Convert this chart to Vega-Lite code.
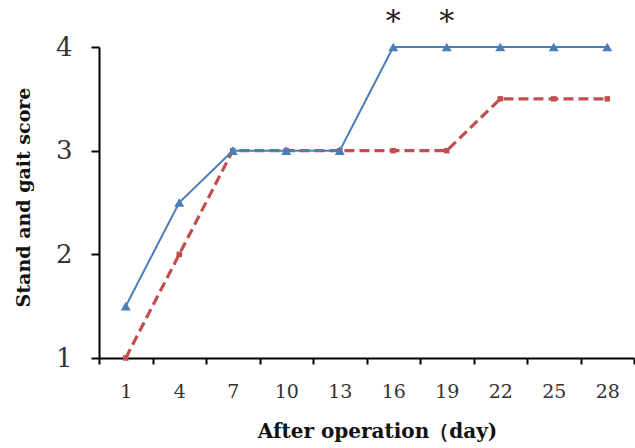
{
  "$schema": "https://vega.github.io/schema/vega-lite/v6.json",
  "width": 535,
  "height": 311,
  "autosize": {"type": "none"},
  "padding": {"left": 99, "top": 47, "right": 1, "bottom": 90},
  "background": "white",
  "config": {
    "view": {"stroke": null},
    "axis": {"grid": false, "domainColor": "black", "tickColor": "black", "labelColor": "#333", "titleColor": "#111"}
  },
  "datasets": {
    "scores": [
      {"day": "1", "series": "A", "score": 1.5},
      {"day": "4", "series": "A", "score": 2.5},
      {"day": "7", "series": "A", "score": 3},
      {"day": "10", "series": "A", "score": 3},
      {"day": "13", "series": "A", "score": 3},
      {"day": "16", "series": "A", "score": 4},
      {"day": "19", "series": "A", "score": 4},
      {"day": "22", "series": "A", "score": 4},
      {"day": "25", "series": "A", "score": 4},
      {"day": "28", "series": "A", "score": 4},
      {"day": "1", "series": "B", "score": 1},
      {"day": "4", "series": "B", "score": 2},
      {"day": "7", "series": "B", "score": 3},
      {"day": "10", "series": "B", "score": 3},
      {"day": "13", "series": "B", "score": 3},
      {"day": "16", "series": "B", "score": 3},
      {"day": "19", "series": "B", "score": 3},
      {"day": "22", "series": "B", "score": 3.5},
      {"day": "25", "series": "B", "score": 3.5},
      {"day": "28", "series": "B", "score": 3.5}
    ],
    "stars": [
      {"day": "16", "score": 4, "label": "*"},
      {"day": "19", "score": 4, "label": "*"}
    ]
  },
  "layer": [
    {
      "data": {"name": "scores"},
      "transform": [{"filter": "datum.series === 'B'"}],
      "mark": {"type": "line", "color": "#C0504D", "strokeWidth": 3.2, "strokeDash": [10, 5]},
      "encoding": {
        "x": {
          "field": "day", "type": "ordinal", "sort": null,
          "scale": {"type": "band", "paddingInner": 0, "paddingOuter": 0, "domain": ["1","4","7","10","13","16","19","22","25","28"]},
          "axis": {
            "title": "After operation（day)", "labelAngle": 0, "tickBand": "extent",
            "tickSize": 6, "tickWidth": 2, "domainWidth": 2,
            "labelFont": "DejaVu Serif", "labelFontSize": 19, "labelPadding": 18,
            "titleFont": "DejaVu Serif", "titleFontWeight": "bold", "titleFontSize": 20, "titlePadding": 20, "titleX": 278
          }
        },
        "y": {
          "field": "score", "type": "quantitative",
          "scale": {"domain": [1, 4], "nice": false, "zero": false},
          "axis": {
            "title": "Stand and gait score", "values": [1, 2, 3, 4], "format": "d",
            "tickSize": 8, "tickWidth": 2, "domainWidth": 2,
            "labelFont": "DejaVu Serif", "labelFontSize": 26, "labelPadding": 19,
            "titleFont": "DejaVu Serif", "titleFontWeight": "bold", "titleFontSize": 19, "titlePadding": 22, "titleY": 150
          }
        }
      }
    },
    {
      "data": {"name": "scores"},
      "transform": [{"filter": "datum.series === 'B'"}],
      "mark": {"type": "point", "shape": "square", "filled": true, "color": "#C0504D", "size": 30, "opacity": 1},
      "encoding": {
        "x": {"field": "day", "type": "ordinal", "sort": null},
        "y": {"field": "score", "type": "quantitative"}
      }
    },
    {
      "data": {"name": "scores"},
      "transform": [{"filter": "datum.series === 'A'"}],
      "mark": {"type": "line", "color": "#4A7EBB", "strokeWidth": 2},
      "encoding": {
        "x": {"field": "day", "type": "ordinal", "sort": null},
        "y": {"field": "score", "type": "quantitative"}
      }
    },
    {
      "data": {"name": "scores"},
      "transform": [{"filter": "datum.series === 'A'"}],
      "mark": {"type": "point", "shape": "triangle-up", "filled": true, "color": "#4A7EBB", "size": 100, "opacity": 1},
      "encoding": {
        "x": {"field": "day", "type": "ordinal", "sort": null},
        "y": {"field": "score", "type": "quantitative"}
      }
    },
    {
      "data": {"name": "stars"},
      "mark": {"type": "text", "font": "DejaVu Serif", "fontSize": 30, "dy": -25, "color": "#222", "baseline": "middle"},
      "encoding": {
        "x": {"field": "day", "type": "ordinal", "sort": null},
        "y": {"field": "score", "type": "quantitative"},
        "text": {"field": "label"}
      }
    }
  ]
}
